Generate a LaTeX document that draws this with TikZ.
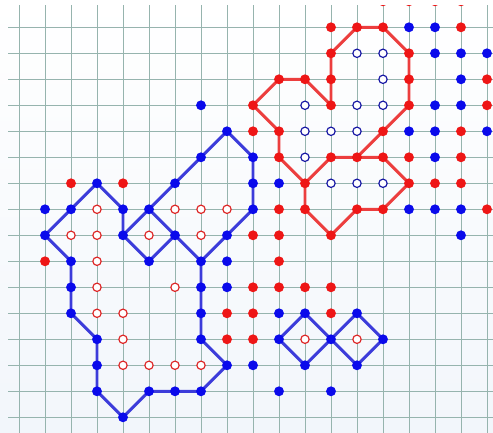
\documentclass[tikz,border=0pt]{standalone}
\usepackage{tikz}

\definecolor{gridgray}{RGB}{150,180,174}
\definecolor{dotblue}{RGB}{10,10,235}
\definecolor{dotred}{RGB}{238,22,22}
\definecolor{lineblue}{RGB}{60,60,218}
\definecolor{linered}{RGB}{236,62,62}
\definecolor{ringblue}{RGB}{25,25,165}
\definecolor{ringred}{RGB}{222,40,40}
\definecolor{paper}{RGB}{242,246,251}

\tikzset{
  gridline/.style={gridgray, line width=1pt},
  blueloop/.style={lineblue, line width=3.2pt, line join=round},
  redloop/.style={linered, line width=3.2pt, line join=round},
  ring/.style={line width=1.3pt, fill=white}
}

\begin{document}
\begin{tikzpicture}[x=1cm, y=-1cm]
  \useasboundingbox (-0.731,-1.05) rectangle (18.231,15.604);
  \fill[top color=white, bottom color=paper] (-0.731,-1.05) rectangle (18.231,15.604);
  \clip (-0.731,-0.84) rectangle (18.231,15.604);
  % Grid
  \foreach \r in {0,...,15}
    \draw[gridline] (-0.42,\r) -- (18.3,\r);
  \foreach \c in {0,...,18}
    \draw[gridline] (\c,-0.84) -- (\c,15.7);
  % Blue loops
  \draw[blueloop] (3,6) -- (2,7) -- (1,8) -- (2,9) -- (2,10) -- (2,11) -- (3,12) -- (3,13)
    -- (3,14) -- (4,15) -- (5,14) -- (6,14) -- (7,14) -- (8,13) -- (7,12) -- (7,11) -- (7,10)
    -- (7,9) -- (8,8) -- (9,7) -- (9,6) -- (9,5) -- (8,4) -- (7,5) -- (6,6) -- (5,7) -- (4,8)
    -- (4,7) -- cycle;
  \draw[blueloop] (5,7) -- (6,8) -- (5,9) -- (4,8);
  \draw[blueloop] (6,8) -- (7,9);
  \draw[blueloop] (10,12) -- (11,11) -- (12,12) -- (11,13) -- cycle;
  \draw[blueloop] (12,12) -- (13,11) -- (14,12) -- (13,13) -- cycle;
  % Red loops
  \draw[redloop] (9,3) -- (10,2) -- (11,2) -- (12,3) -- (12,2) -- (12,1) -- (13,0) -- (14,0)
    -- (15,1) -- (15,2) -- (15,3) -- (14,4) -- (13,5) -- (12,5) -- (11,6) -- (10,5) -- (10,4)
    -- cycle;
  \draw[redloop] (11,6) -- (11,7) -- (12,8) -- (13,7) -- (14,7) -- (15,6) -- (14,5) -- (13,5);
  % Filled blue points
  \foreach \r/\cols in {0/{15,16}, 1/{16,17,18}, 2/{17}, 3/{7,16,17}, 4/{8,15,16,18},
      5/{7,9,16}, 6/{3,6,9,10}, 7/{1,2,4,5,9,15,16,17}, 8/{1,4,6,8,17}, 9/{2,5,7,8},
      10/{2,7,8}, 11/{2,7,10,11,13}, 12/{3,7,10,12,14}, 13/{3,8,9,11,13},
      14/{3,5,6,7,10,12}, 15/{4}}
    \foreach \c in \cols
      \fill[dotblue] (\c,\r) circle (0.19);
  % Filled red points
  \foreach \r/\cols in {-1/{14,15,16,17}, 0/{12,13,14,17}, 1/{12,15}, 2/{10,11,12,15,18},
      3/{9,12,15,18}, 4/{9,10,14,17}, 5/{10,12,13,14,15,17}, 6/{2,4,11,15,16,17},
      7/{10,11,13,14,18}, 8/{9,10,12}, 9/{1,10}, 10/{9,10,11,12}, 11/{8,9,12}, 12/{8,9}}
    \foreach \c in \cols
      \fill[dotred] (\c,\r) circle (0.19);
  % Open blue points
  \foreach \r/\cols in {1/{13,14}, 2/{14}, 3/{11,13,14}, 4/{11,12,13}, 5/{11}, 6/{12,13,14}}
    \foreach \c in \cols
      \draw[ring, draw=ringblue] (\c,\r) circle (0.16);
  % Open red points
  \foreach \r/\cols in {7/{3,6,7,8}, 8/{2,3,5,7}, 9/{3}, 10/{3,6}, 11/{3,4}, 12/{4,11,13},
      13/{4,5,6,7}}
    \foreach \c in \cols
      \draw[ring, draw=ringred] (\c,\r) circle (0.16);
\end{tikzpicture}
\end{document}
